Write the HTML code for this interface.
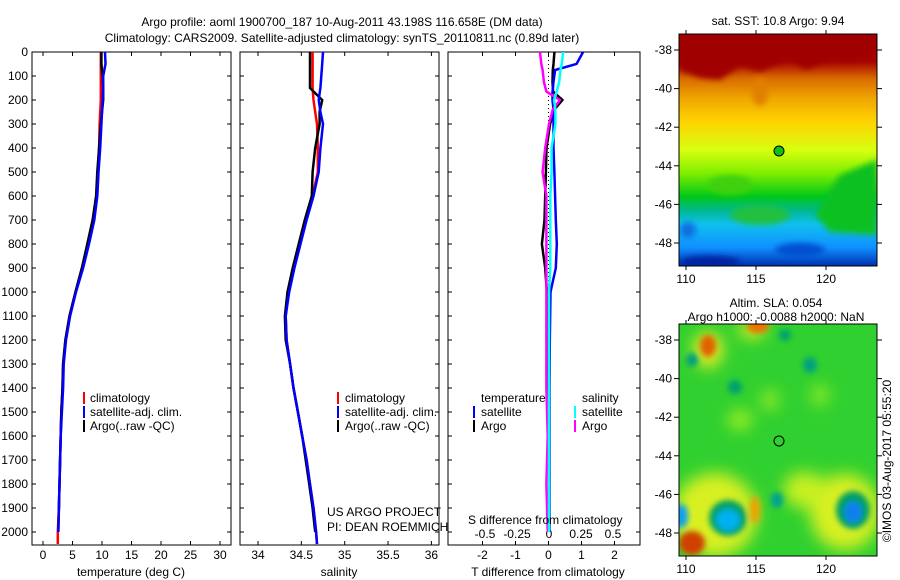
<!DOCTYPE html>
<html><head><meta charset="utf-8"><style>
html,body{margin:0;padding:0;background:#fff;}
svg{display:block;font-family:"Liberation Sans",sans-serif;}
text{font-size:12px;fill:#000;}
</style></head><body>
<svg id="fig" width="900" height="580" viewBox="0 0 900 580">
<defs>
<linearGradient id="sstg" x1="0" y1="0" x2="0" y2="1">
<stop offset="0" stop-color="#a00000"/><stop offset="0.12" stop-color="#a80400"/>
<stop offset="0.19" stop-color="#d86a00"/><stop offset="0.28" stop-color="#f0a800"/>
<stop offset="0.38" stop-color="#ffd400"/><stop offset="0.5" stop-color="#d8ff10"/>
<stop offset="0.6" stop-color="#80ee00"/><stop offset="0.7" stop-color="#00c818"/>
<stop offset="0.76" stop-color="#00b890"/><stop offset="0.82" stop-color="#10c0f0"/>
<stop offset="0.92" stop-color="#1090ff"/><stop offset="1" stop-color="#0030b0"/>
</linearGradient>
<filter id="bl" x="-50%" y="-50%" width="200%" height="200%"><feGaussianBlur stdDeviation="8"/></filter>
<filter id="bl2" x="-50%" y="-50%" width="200%" height="200%"><feGaussianBlur stdDeviation="3"/></filter>
<clipPath id="c1"><rect x="679" y="34" width="198" height="232"/></clipPath>
<clipPath id="c2"><rect x="679" y="324" width="198" height="232"/></clipPath>
<clipPath id="p1"><rect x="32" y="52" width="199" height="493"/></clipPath>
<clipPath id="p2"><rect x="240" y="52" width="199" height="493"/></clipPath>
<clipPath id="p3"><rect x="448" y="52" width="192" height="493"/></clipPath>
</defs>

<text x="342" y="26" text-anchor="middle">Argo profile: aoml 1900700_187 10-Aug-2011 43.198S 116.658E (DM data)</text>
<text x="342" y="42" text-anchor="middle">Climatology: CARS2009. Satellite-adjusted climatology: synTS_20110811.nc (0.89d later)</text>

<rect x="32" y="52" width="199" height="493" fill="none" stroke="#000"/>
<rect x="240" y="52" width="199" height="493" fill="none" stroke="#000"/>
<rect x="448" y="52" width="192" height="493" fill="none" stroke="#000"/>

<g id="axes"></g>
<g id="series"></g>

<g>
<line x1="84" y1="392" x2="84" y2="404" stroke="#f00" stroke-width="2"/><text x="90" y="402">climatology</text>
<line x1="84" y1="406" x2="84" y2="418" stroke="#00f" stroke-width="2"/><text x="90" y="416">satellite-adj. clim.</text>
<line x1="84" y1="420" x2="84" y2="432" stroke="#000" stroke-width="2"/><text x="90" y="430">Argo(..raw -QC)</text>
</g>
<g>
<line x1="338" y1="392" x2="338" y2="404" stroke="#f00" stroke-width="2"/><text x="345" y="402">climatology</text>
<line x1="338" y1="406" x2="338" y2="418" stroke="#00f" stroke-width="2"/><text x="345" y="416">satellite-adj. clim.</text>
<line x1="338" y1="420" x2="338" y2="432" stroke="#000" stroke-width="2"/><text x="345" y="430">Argo(..raw -QC)</text>
</g>
<g>
<text x="481" y="402">temperature</text><text x="582" y="402">salinity</text>
<line x1="474" y1="406" x2="474" y2="418" stroke="#00f" stroke-width="2"/><text x="481" y="416">satellite</text>
<line x1="474" y1="420" x2="474" y2="432" stroke="#000" stroke-width="2"/><text x="481" y="430">Argo</text>
<line x1="575" y1="406" x2="575" y2="418" stroke="#0ff" stroke-width="2"/><text x="582" y="416">satellite</text>
<line x1="575" y1="420" x2="575" y2="432" stroke="#f0f" stroke-width="2"/><text x="582" y="430">Argo</text>
</g>
<text x="327" y="516">US ARGO PROJECT</text>
<text x="327" y="531">PI: DEAN ROEMMICH</text>
<text x="468" y="524">S difference from climatology</text>

<text x="131" y="576" text-anchor="middle">temperature (deg C)</text>
<text x="339" y="576" text-anchor="middle">salinity</text>
<text x="548" y="576" text-anchor="middle">T difference from climatology</text>

<!-- SST map -->
<g clip-path="url(#c1)">
<rect x="679" y="34" width="198" height="232" fill="url(#sstg)"/>
<g filter="url(#bl2)">
<polygon points="679,34 877,34 877,52 850,62 830,60 805,70 790,58 760,72 740,66 720,80 700,78 679,70" fill="#a00000"/>
<ellipse cx="760" cy="92" rx="8" ry="14" fill="#e08000"/>
<polygon points="840,175 877,160 877,235 830,232 815,215" fill="#10c020"/>
<ellipse cx="730" cy="185" rx="22" ry="10" fill="#40d010"/>
<ellipse cx="760" cy="215" rx="30" ry="10" fill="#20c040"/>
<ellipse cx="800" cy="250" rx="25" ry="7" fill="#0050d0"/>
<ellipse cx="710" cy="262" rx="30" ry="6" fill="#0020a0"/>
<ellipse cx="688" cy="230" rx="8" ry="8" fill="#1070e0"/>
</g>
</g>
<rect x="679" y="34" width="198" height="232" fill="none" stroke="#000"/>
<text x="778" y="25" text-anchor="middle">sat. SST: 10.8 Argo: 9.94</text>
<circle cx="779" cy="151" r="5" fill="#10c010" stroke="#000"/>

<!-- SLA map -->
<g clip-path="url(#c2)">
<rect x="679" y="324" width="198" height="232" fill="#30d030"/>
<g filter="url(#bl)">
<ellipse cx="715" cy="515" rx="42" ry="42" fill="#d8f020"/>
<ellipse cx="845" cy="512" rx="35" ry="38" fill="#d8f020"/>
<ellipse cx="805" cy="490" rx="22" ry="18" fill="#c8f020"/>
<ellipse cx="708" cy="350" rx="15" ry="18" fill="#e8f020"/>
<ellipse cx="752" cy="330" rx="14" ry="8" fill="#e8f020"/>
<ellipse cx="740" cy="420" rx="12" ry="10" fill="#a0f020"/>
<ellipse cx="770" cy="400" rx="8" ry="10" fill="#a0f020"/>
<ellipse cx="820" cy="395" rx="8" ry="10" fill="#a0f020"/>
</g>
<g filter="url(#bl2)">
<ellipse cx="708" cy="346" rx="8" ry="11" fill="#e06000"/>
<ellipse cx="758" cy="326" rx="11" ry="7" fill="#f07000"/>
<ellipse cx="755" cy="510" rx="5" ry="14" fill="#f0a000"/>
<ellipse cx="728" cy="518" rx="19" ry="18" fill="#00a060"/>
<ellipse cx="728" cy="520" rx="12" ry="11" fill="#00b0f0"/>
<ellipse cx="853" cy="510" rx="17" ry="19" fill="#00a060"/>
<ellipse cx="853" cy="512" rx="9" ry="11" fill="#1080f0"/>
<ellipse cx="681" cy="516" rx="7" ry="12" fill="#10a0f0"/>
<ellipse cx="692" cy="543" rx="13" ry="12" fill="#d04000"/>
<ellipse cx="777" cy="500" rx="6" ry="8" fill="#00a090"/>
<ellipse cx="692" cy="360" rx="6" ry="7" fill="#00a080"/>
<ellipse cx="810" cy="365" rx="7" ry="8" fill="#00a080"/>
<ellipse cx="735" cy="387" rx="7" ry="7" fill="#00a070"/>
<ellipse cx="785" cy="335" rx="6" ry="6" fill="#00a070"/>
</g>
</g>
<rect x="679" y="324" width="198" height="232" fill="none" stroke="#000"/>
<text x="776" y="307" text-anchor="middle">Altim. SLA: 0.054</text>
<text x="776" y="321" text-anchor="middle">Argo h1000: -0.0088 h2000: NaN</text>
<circle cx="779" cy="441" r="5" fill="none" stroke="#000"/>
<text transform="translate(891,461) rotate(-90)" text-anchor="middle">©IMOS 03-Aug-2017 05:55:20</text>
<g id="mapaxes"></g>
</svg>
<script>
const depths = [0,50,100,150,200,250,300,400,500,600,700,800,900,1000,1100,1200,1300,1400,1500,1600,1700,1800,1900,2000,2050];
const tClim = [9.8,9.8,9.8,9.8,9.8,9.7,9.6,9.5,9.3,9.1,8.5,7.6,6.6,5.5,4.5,3.8,3.4,3.3,3.1,3.0,2.9,2.8,2.7,2.5,2.5];
const tSat = [10.5,10.6,10.2,10.2,10.1,10.0,9.9,9.7,9.4,9.2,8.7,7.8,6.8,5.6,4.6,3.9,3.5,3.4,3.2,3.0,2.9,2.8,2.7,2.6];
const tArgo = [9.9,9.9,10.1,10.2,10.2,10.0,9.8,9.5,9.2,9.0,8.4,7.5,6.6,5.5,4.5,3.8,3.4,3.3,3.1,3.0,2.9,2.8,2.7,2.6];
const sClim = [34.63,34.63,34.63,34.63,34.64,34.66,34.68,34.69,34.69,34.63,34.55,34.48,34.41,34.35,34.32,34.33,34.37,34.41,34.46,34.51,34.56,34.60,34.64,34.67,34.68];
const sSat = [34.75,34.74,34.73,34.72,34.70,34.72,34.75,34.72,34.70,34.64,34.56,34.49,34.42,34.36,34.32,34.33,34.37,34.41,34.46,34.51,34.56,34.60,34.64,34.67,34.68];
const sArgo = [34.60,34.60,34.60,34.60,34.74,34.71,34.71,34.66,34.63,34.62,34.54,34.47,34.40,34.34,34.31,34.32,34.37,34.41,34.46,34.51,34.55,34.59,34.63,34.66];
const dDepths = [0,50,75,125,165,200,240,300,400,500,600,700,800,900,1000,1200,1400,1600,1800,2000];
const dTSat = [1.05,0.85,0.2,0.15,0.12,0.12,0.15,0.15,0.15,0.18,0.2,0.22,0.25,0.22,0.06,0.04,0.03,0.03,0.03,0.03];
const dTArgo = [0.18,0.15,0.13,0.12,0.14,0.42,0.18,0.05,-0.06,-0.08,-0.1,-0.12,-0.2,-0.1,-0.05,-0.04,-0.03,0.02,0.02,0.0];
const dSSat = [0.11,0.1,0.09,0.08,0.06,0.04,0.05,0.05,0.02,0.02,0.01,0.01,0.01,0.01,0.0,0.0,0.0,0.0,0.0,0.0];
const dSArgo = [-0.07,-0.06,-0.05,-0.04,-0.02,0.085,0.03,0.0,-0.03,-0.05,-0.02,-0.02,-0.02,-0.02,-0.02,-0.02,-0.02,-0.01,-0.02,-0.01];
const depthTicks = [0,100,200,300,400,500,600,700,800,900,1000,1100,1200,1300,1400,1500,1600,1700,1800,1900,2000];
const tTicks = [0,5,10,15,20,25,30];
const sTicks = [34,34.5,35,35.5,36];
const sTickLabels = ["34","34.5","35","35.5","36"];
const dtTicks = [-2,-1,0,1,2];
const dsTicks = [-0.5,-0.25,0,0.25,0.5];
const dsTickLabels = ["-0.5","-0.25","0","0.25","0.5"];
const latTicks = [-38,-40,-42,-44,-46,-48];
const lonTicks = [110,115,120];

const NS = "http://www.w3.org/2000/svg";
const yD = d => 52 + 0.24 * d;
const xT = t => 43 + 5.9 * t;
const xS = s => 258 + 86.7 * (s - 34);
const xDT = v => 548.5 + 33 * v;
const xDS = v => 549 + 128 * v;
const lonX = l => 686 + 14 * (l - 110);
const latY1 = l => 50 + 19.3 * (-38 - l);
const latY2 = l => 340 + 19.3 * (-38 - l);
const axes = document.getElementById('axes');
const series = document.getElementById('series');
const mapaxes = document.getElementById('mapaxes');

function mk(tag, attrs, parent) {
  const e = document.createElementNS(NS, tag);
  for (const k in attrs) e.setAttribute(k, attrs[k]);
  parent.appendChild(e);
  return e;
}
function txt(x, y, s, anchor, parent) {
  const e = mk('text', {x: x, y: y, 'text-anchor': anchor}, parent);
  e.textContent = s;
  return e;
}

depthTicks.forEach(d => {
  const y = yD(d);
  const t = txt(28, y + 4, String(d), 'end', axes);
  
  
  [[32,231],[240,439],[448,640]].forEach(p => {
    mk('line', {x1: p[0], y1: y, x2: p[0] + 4, y2: y, stroke: '#000'}, axes);
    mk('line', {x1: p[1], y1: y, x2: p[1] - 4, y2: y, stroke: '#000'}, axes);
  });
});
function xticks(ticks, labels, fx, y0, y1, ly, group) {
  ticks.forEach((v, i) => {
    const x = fx(v);
    mk('line', {x1: x, y1: y0, x2: x, y2: y0 + 4, stroke: '#000'}, axes);
    mk('line', {x1: x, y1: y1, x2: x, y2: y1 - 4, stroke: '#000'}, axes);
    if (ly) {
      const t = txt(x, ly, labels[i], 'middle', axes);
      
      
    }
  });
}
xticks(tTicks, tTicks.map(String), xT, 52, 545, 559, 'temperature');
xticks(sTicks, sTickLabels, xS, 52, 545, 559, 'salinity');
xticks(dtTicks, dtTicks.map(String), xDT, 52, 545, 559, 't-diff');
dsTicks.forEach((v, i) => {
  const t = txt(xDS(v), 538, dsTickLabels[i], 'middle', axes);
  
  
});
const z = mk('line', {x1: xDT(0), y1: 52, x2: xDT(0), y2: yD(2000), stroke: '#000', 'stroke-dasharray': '1,3'}, axes);



function line(vals, dep, fx, color, name, clip) {
  const pts = vals.map((v, i) => fx(v).toFixed(1) + ',' + yD(dep[i]).toFixed(1)).join(' ');
  const p = mk('polyline', {points: pts, fill: 'none', stroke: color, 'stroke-width': 2.5, 'clip-path': 'url(#' + clip + ')'}, series);
  
  
}
line(tClim, depths, xT, '#f00', 'temperature-climatology-line', 'p1');
line(tArgo, depths, xT, '#000', 'temperature-argo-line', 'p1');
line(tSat, depths, xT, '#00f', 'temperature-satellite-line', 'p1');
line(sClim, depths, xS, '#f00', 'salinity-climatology-line', 'p2');
line(sArgo, depths, xS, '#000', 'salinity-argo-line', 'p2');
line(sSat, depths, xS, '#00f', 'salinity-satellite-line', 'p2');
line(dTArgo, dDepths, xDT, '#000', 't-diff-argo-line', 'p3');
line(dTSat, dDepths, xDT, '#00f', 't-diff-satellite-line', 'p3');
line(dSArgo, dDepths, xDS, '#f0f', 's-diff-argo-line', 'p3');
line(dSSat, dDepths, xDS, '#0ff', 's-diff-satellite-line', 'p3');

[[34,266,latY1],[324,556,latY2]].forEach(m => {
  latTicks.forEach(l => {
    const y = m[2](l);
    mk('line', {x1: 679, y1: y, x2: 674, y2: y, stroke: '#000'}, mapaxes);
    mk('line', {x1: 877, y1: y, x2: 882, y2: y, stroke: '#000'}, mapaxes);
    const t = txt(672, y + 4, String(l), 'end', mapaxes);
    
    
  });
  lonTicks.forEach(l => {
    const x = lonX(l);
    mk('line', {x1: x, y1: m[0], x2: x, y2: m[0] - 4, stroke: '#000'}, mapaxes);
    mk('line', {x1: x, y1: m[1], x2: x, y2: m[1] + 4, stroke: '#000'}, mapaxes);
    const t = txt(x, m[1] + 17, String(l), 'middle', mapaxes);
    
    
  });
});
</script>
</body></html>
